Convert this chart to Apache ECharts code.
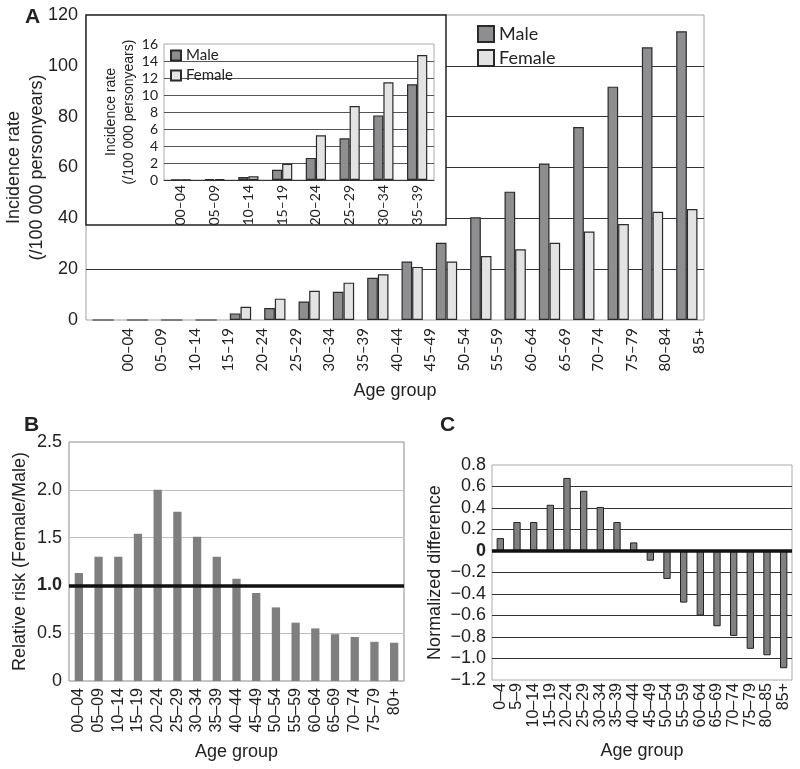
<!DOCTYPE html>
<html>
<head>
<meta charset="utf-8">
<script src="https://cdn.jsdelivr.net/npm/echarts@6/dist/echarts.min.js"></script>
<style>html,body{margin:0;padding:0;background:#fff;}#c{width:800px;height:769px;}</style>
</head>
<body>
<div id="c"></div>
<script>
// ---- Panel A: incidence rate (main) ----
const mainCategories = ['00–04','05–09','10–14','15–19','20–24','25–29','30–34','35–39','40–44','45–49','50–54','55–59','60–64','65–69','70–74','75–79','80–84','85+'];
const mainMale   = [0, 0, 0, 0, 2.6, 4.7, 7.3, 11.1, 16.6, 23.0, 30.4, 40.4, 50.5, 61.6, 75.9, 91.8, 107.3, 113.6];
const mainFemale = [0, 0, 0, 0, 5.2, 8.4, 11.5, 14.7, 18.0, 20.9, 23.0, 25.2, 27.8, 30.4, 34.8, 37.8, 42.6, 43.7];

// ---- Panel A: inset ----
const insetCategories = ['00–04','05–09','10–14','15–19','20–24','25–29','30–34','35–39'];
const insetMale   = [0.05, 0.1, 0.35, 1.2, 2.6, 4.9, 7.6, 11.25];
const insetFemale = [0.05, 0.1, 0.43, 1.9, 5.25, 8.7, 11.5, 14.7];

// ---- Panel B: relative risk ----
const riskCategories = ['00–04','05–09','10–14','15–19','20–24','25–29','30–34','35–39','40–44','45–49','50–54','55–59','60–64','65–69','70–74','75–79','80+'];
const riskValues = [1.13, 1.30, 1.30, 1.54, 2.0, 1.77, 1.51, 1.30, 1.07, 0.92, 0.77, 0.61, 0.55, 0.49, 0.46, 0.41, 0.40];
const riskReference = 1.0;

// ---- Panel C: normalized difference ----
const diffCategories = ['0–4','5–9','10–14','15–19','20–24','25–29','30–34','35–39','40–44','45–49','50–54','55–59','60–64','65–69','70–74','75–79','80–85','85+'];
const diffValues = [0.12, 0.27, 0.27, 0.43, 0.68, 0.56, 0.41, 0.27, 0.08, -0.09, -0.26, -0.48, -0.60, -0.70, -0.79, -0.91, -0.97, -1.09];
const diffReference = 0;

const ARIAL = '"Liberation Sans", Arial, sans-serif';
const CAL = 'Lato, "Open Sans", sans-serif';
const TXT = '#222';
const MALE_C = '#8e8e90', FEMALE_C = '#e3e3e3', EDGE = '#2a2a2a';

const chart = echarts.init(document.getElementById('c'), null, {renderer: 'canvas'});

const option = {
  backgroundColor: '#fff',
  animation: false,
  title: [
    {text: 'A', left: 20, top: 2, textStyle: {fontSize: 21, fontWeight: 'bold', fontFamily: ARIAL, color: TXT}},
    {text: 'B', left: 19, top: 410, textStyle: {fontSize: 21, fontWeight: 'bold', fontFamily: ARIAL, color: TXT}},
    {text: 'C', left: 435, top: 410, textStyle: {fontSize: 21, fontWeight: 'bold', fontFamily: ARIAL, color: TXT}}
  ],
  legend: [
    {left: 477, top: 25, padding: 0, orient: 'vertical', icon: 'rect', itemWidth: 16, itemHeight: 16, itemGap: 6,
     data: ['Male', 'Female'], textStyle: {fontSize: 18, fontFamily: CAL, color: TXT}, selectedMode: false},
    {left: 170, top: 48, padding: 0, orient: 'vertical', icon: 'rect', itemWidth: 10, itemHeight: 10, itemGap: 5, z: 14,
     data: ['Male', 'Female'], textStyle: {fontSize: 15, fontFamily: CAL, color: TXT}, selectedMode: false}
  ],
  graphic: [
    {type: 'rect', z: 5, shape: {x: 86, y: 15, width: 360, height: 210},
     style: {fill: '#fff', stroke: '#222', lineWidth: 1.5}}
  ],
  grid: [
    {left: 86, top: 15, width: 618, height: 305, show: true, borderColor: '#a0a0a0', borderWidth: 1, containLabel: false, outerBoundsMode: 'none'},
    {left: 111, top: 15, width: 605, height: 305, show: false, containLabel: false, outerBoundsMode: 'none'},
    {left: 164, top: 44, width: 270, height: 136, show: true, borderColor: '#aaa', borderWidth: 1, z: 8, containLabel: false, outerBoundsMode: 'none'},
    {left: 69, top: 442, width: 335, height: 239, show: true, borderColor: '#8a8a8a', borderWidth: 1, containLabel: false, outerBoundsMode: 'none'},
    {left: 492, top: 465, width: 300, height: 215, show: true, borderColor: '#aaa', borderWidth: 1, containLabel: false, outerBoundsMode: 'none'}
  ],
  xAxis: [
    {gridIndex: 0, type: 'category', data: mainCategories,
     axisLine: {show: false}, axisTick: {show: false}, axisLabel: {show: false},
     name: 'Age group', nameLocation: 'middle', nameGap: 62,
     nameTextStyle: {fontSize: 18, fontFamily: ARIAL, color: TXT}},
    {gridIndex: 1, type: 'category', data: mainCategories,
     axisLine: {show: false}, axisTick: {show: false},
     axisLabel: {rotate: 90, interval: 0, margin: 8, fontSize: 15, fontFamily: CAL, color: TXT}},
    {gridIndex: 2, type: 'category', data: insetCategories, z: 10,
     axisLine: {show: true, lineStyle: {color: '#333', width: 1}}, axisTick: {show: false},
     axisLabel: {rotate: 90, interval: 0, margin: 5, fontSize: 14, fontFamily: CAL, color: TXT}},
    {gridIndex: 3, type: 'category', data: riskCategories,
     axisLine: {show: false}, axisTick: {show: false},
     axisLabel: {rotate: 90, interval: 0, margin: 7, fontSize: 16, fontFamily: ARIAL, color: TXT},
     name: 'Age group', nameLocation: 'middle', nameGap: 62,
     nameTextStyle: {fontSize: 18, fontFamily: ARIAL, color: TXT}},
    {gridIndex: 4, type: 'category', data: diffCategories,
     axisLine: {show: false, onZero: false}, axisTick: {show: false},
     axisLabel: {rotate: 90, interval: 0, margin: 3, fontSize: 16, fontFamily: ARIAL, color: TXT},
     name: 'Age group', nameLocation: 'middle', nameGap: 62,
     nameTextStyle: {fontSize: 18, fontFamily: ARIAL, color: TXT}}
  ],
  yAxis: [
    {gridIndex: 0, type: 'value', min: 0, max: 120, interval: 20,
     axisLine: {show: false}, axisTick: {show: false},
     axisLabel: {margin: 8, fontSize: 18, fontFamily: ARIAL, color: TXT},
     splitLine: {show: true, showMinLine: false, showMaxLine: false, lineStyle: {color: '#333', width: 1}},
     name: 'Incidence rate\n(/100 000 personyears)', nameLocation: 'middle', nameGap: 37, nameMoveOverlap: false,
     nameTextStyle: {fontSize: 18, lineHeight: 23, fontFamily: ARIAL, color: TXT}},
    {gridIndex: 1, type: 'value', min: 0, max: 1, show: false},
    {gridIndex: 2, type: 'value', min: 0, max: 16, interval: 2, z: 10,
     axisLine: {show: false}, axisTick: {show: false},
     axisLabel: {margin: 6, fontSize: 14, fontFamily: CAL, color: TXT},
     splitLine: {show: true, showMinLine: false, showMaxLine: false, lineStyle: {color: '#555', width: 1}},
     name: 'Incidence rate\n(/100 000 personyears)', nameLocation: 'middle', nameGap: 26,
     nameTextStyle: {fontSize: 14, lineHeight: 18, fontFamily: ARIAL, color: TXT}},
    {gridIndex: 3, type: 'value', min: 0, max: 2.5, interval: 0.5,
     axisLine: {show: false}, axisTick: {show: false},
     axisLabel: {margin: 7, fontSize: 18, fontFamily: ARIAL, color: TXT,
       formatter: function (v) { if (v === 0) return '0'; const s = v.toFixed(1); return Math.abs(v - 1) < 1e-9 ? '{b|' + s + '}' : s; },
       rich: {b: {fontWeight: 'bold', fontSize: 18, fontFamily: ARIAL, color: TXT}}},
     splitLine: {show: true, showMinLine: false, showMaxLine: false, lineStyle: {color: '#bdbdbd', width: 1}},
     name: 'Relative risk (Female/Male)', nameLocation: 'middle', nameGap: 40,
     nameTextStyle: {fontSize: 18, fontFamily: ARIAL, color: TXT}},
    {gridIndex: 4, type: 'value', min: -1.2, max: 0.8, interval: 0.2,
     axisLine: {show: false}, axisTick: {show: false},
     axisLabel: {margin: 6, fontSize: 18, fontFamily: ARIAL, color: TXT,
       formatter: function (v) { const r = Math.round(v * 10) / 10; if (Math.abs(r) < 1e-9) return '{b|0}'; return (r < 0 ? '\u2212' : '') + Math.abs(r).toFixed(1); },
       rich: {b: {fontWeight: 'bold', fontSize: 18, fontFamily: ARIAL, color: TXT}}},
     splitLine: {show: true, showMinLine: false, showMaxLine: false, lineStyle: {color: '#333', width: 1}},
     name: 'Normalized difference', nameLocation: 'middle', nameGap: 48,
     nameTextStyle: {fontSize: 18, fontFamily: ARIAL, color: TXT}}
  ],
  series: [
    {name: 'Male', type: 'bar', xAxisIndex: 0, yAxisIndex: 0, data: mainMale, barGap: '0%', barCategoryGap: '38%',
     itemStyle: {color: MALE_C, borderColor: EDGE, borderWidth: 1.2}},
    {name: 'Female', type: 'bar', xAxisIndex: 0, yAxisIndex: 0, data: mainFemale, barGap: '0%', barCategoryGap: '38%',
     itemStyle: {color: FEMALE_C, borderColor: EDGE, borderWidth: 1.2}},
    {name: 'Male', type: 'bar', xAxisIndex: 2, yAxisIndex: 2, data: insetMale, barGap: '0%', barCategoryGap: '40%', z: 12,
     itemStyle: {color: MALE_C, borderColor: EDGE, borderWidth: 1.2}},
    {name: 'Female', type: 'bar', xAxisIndex: 2, yAxisIndex: 2, data: insetFemale, barGap: '0%', barCategoryGap: '40%', z: 12,
     itemStyle: {color: FEMALE_C, borderColor: EDGE, borderWidth: 1.2}},
    {name: 'Relative risk', type: 'bar', xAxisIndex: 3, yAxisIndex: 3, data: riskValues, barCategoryGap: '58%',
     itemStyle: {color: '#7f7f7f'},
     markLine: {silent: true, symbol: 'none', label: {show: false}, lineStyle: {color: '#111', width: 3.5, type: 'solid'},
       data: [{yAxis: riskReference}]}},
    {name: 'Normalized difference', type: 'bar', xAxisIndex: 4, yAxisIndex: 4, data: diffValues, barCategoryGap: '56%',
     itemStyle: {color: '#808080', borderColor: '#222', borderWidth: 1},
     markLine: {silent: true, symbol: 'none', label: {show: false}, lineStyle: {color: '#111', width: 3.5, type: 'solid'},
       data: [{yAxis: diffReference}]}}
  ]
};
chart.setOption(option);
</script>
</body>
</html>
